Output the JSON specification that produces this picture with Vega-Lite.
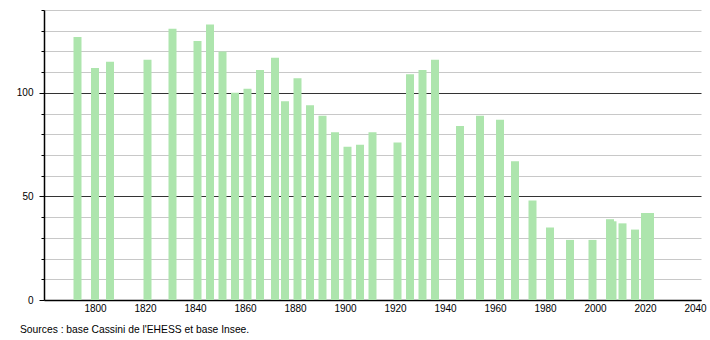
{
  "$schema": "https://vega.github.io/schema/vega-lite/v6.json",
  "width": 657,
  "height": 290,
  "autosize": {"type": "none"},
  "padding": {"left": 44, "top": 10, "right": 9, "bottom": 40},
  "background": "white",
  "config": {"view": {"stroke": null}, "font": "Liberation Sans"},
  "title": {
    "text": "Sources : base Cassini de l'EHESS et base Insee.",
    "orient": "bottom",
    "anchor": "start",
    "frame": "group",
    "dx": -24,
    "offset": 12,
    "fontSize": 10.3,
    "fontWeight": "normal",
    "color": "#000",
    "font": "Liberation Sans"
  },
  "data": {
    "values": [
      {"year": 1793, "pop": 127},
      {"year": 1800, "pop": 112},
      {"year": 1806, "pop": 115},
      {"year": 1821, "pop": 116},
      {"year": 1831, "pop": 131},
      {"year": 1841, "pop": 125},
      {"year": 1846, "pop": 133},
      {"year": 1851, "pop": 120},
      {"year": 1856, "pop": 100},
      {"year": 1861, "pop": 102},
      {"year": 1866, "pop": 111},
      {"year": 1872, "pop": 117},
      {"year": 1876, "pop": 96},
      {"year": 1881, "pop": 107},
      {"year": 1886, "pop": 94},
      {"year": 1891, "pop": 89},
      {"year": 1896, "pop": 81},
      {"year": 1901, "pop": 74},
      {"year": 1906, "pop": 75},
      {"year": 1911, "pop": 81},
      {"year": 1921, "pop": 76},
      {"year": 1926, "pop": 109},
      {"year": 1931, "pop": 111},
      {"year": 1936, "pop": 116},
      {"year": 1946, "pop": 84},
      {"year": 1954, "pop": 89},
      {"year": 1962, "pop": 87},
      {"year": 1968, "pop": 67},
      {"year": 1975, "pop": 48},
      {"year": 1982, "pop": 35},
      {"year": 1990, "pop": 29},
      {"year": 1999, "pop": 29},
      {"year": 2006, "pop": 39},
      {"year": 2007, "pop": 38},
      {"year": 2011, "pop": 37},
      {"year": 2016, "pop": 34},
      {"year": 2020, "pop": 42},
      {"year": 2022, "pop": 42}
    ]
  },
  "mark": {"type": "bar", "width": 8, "color": "#ade5ad"},
  "encoding": {
    "x": {
      "field": "year",
      "type": "quantitative",
      "scale": {"domain": [1779.6, 2042.4], "nice": false, "zero": false, "padding": 0},
      "axis": {
        "title": null,
        "values": [1800, 1820, 1840, 1860, 1880, 1900, 1920, 1940, 1960, 1980, 2000, 2020, 2040],
        "format": "d",
        "grid": false,
        "ticks": false,
        "domainColor": "#000",
        "domainWidth": 1.5,
        "labelFontSize": 10,
        "labelColor": "#000",
        "labelPadding": 3,
        "labelFont": "Liberation Sans"
      }
    },
    "y": {
      "field": "pop",
      "type": "quantitative",
      "scale": {"domain": [0, 140], "nice": false},
      "axis": {
        "title": null,
        "values": [0, 10, 20, 30, 40, 50, 60, 70, 80, 90, 100, 110, 120, 130, 140],
        "labelExpr": "datum.value % 50 === 0 ? datum.label : ''",
        "grid": true,
        "gridColor": {"condition": {"test": "datum.value % 50 === 0", "value": "#333333"}, "value": "#c8c8c8"},
        "gridWidth": 1,
        "tickColor": "#000",
        "tickSize": {"condition": {"test": "datum.value % 50 === 0", "value": 5}, "value": 3},
        "domainColor": "#000",
        "domainWidth": 1.5,
        "labelFontSize": 10,
        "labelColor": "#000",
        "labelPadding": 6,
        "labelFont": "Liberation Sans"
      }
    }
  }
}
